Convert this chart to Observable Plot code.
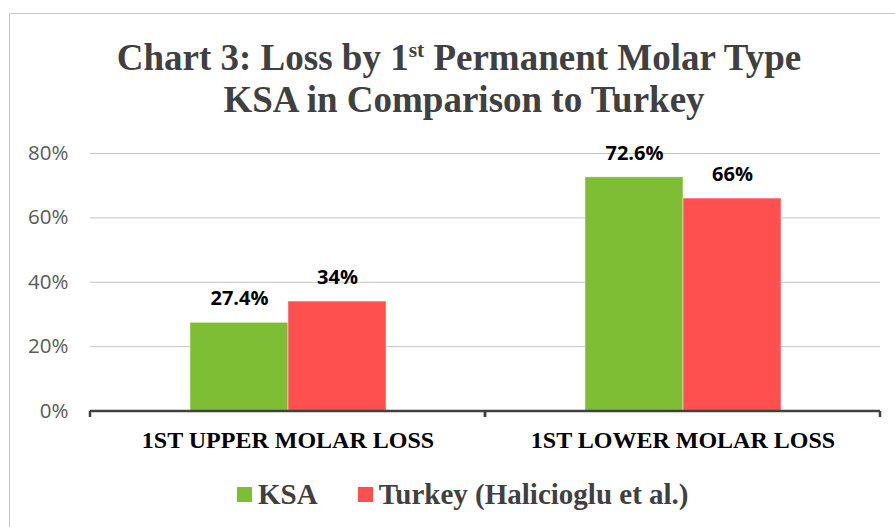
<!DOCTYPE html>
<html>
<head>
<meta charset="utf-8">
<script src="https://cdn.jsdelivr.net/npm/d3@7"></script>
<script src="https://cdn.jsdelivr.net/npm/@observablehq/plot@0.6"></script>
<style>
  html, body { margin: 0; padding: 0; background: #fff; }
  #wrap { position: relative; width: 895px; height: 527px; overflow: hidden; background: #fff; }
  #frame { position: absolute; left: 9px; top: 13px; width: 920px; height: 560px; border: 1.5px solid #cacaca; box-sizing: border-box; }
  .title { position: absolute; font-family: "Liberation Serif", "Times New Roman", serif; font-weight: bold; font-size: 37px; color: #404040; white-space: nowrap; line-height: 1; }
  .title sup { font-size: 58%; vertical-align: 0; position: relative; top: -0.62em; }
  #chart { position: absolute; left: 0; top: 128px; }
  #legend { position: absolute; left: 237px; top: 476px; }
  div.lg-swatches { font-family: "Liberation Serif", "Times New Roman", serif !important; font-weight: bold; font-size: 29px !important; color: #404040; min-height: 36px; }
  span.lg-swatch { margin-right: 40px !important; }
  span.lg-swatch > svg { margin-right: 6px !important; }
</style>
</head>
<body>
<div id="wrap">
  <div id="frame"></div>
  <div class="title" id="t1">Chart 3: Loss by 1<sup>st</sup> Permanent Molar Type</div>
  <div class="title" id="t2">KSA in Comparison to Turkey</div>
  <div id="chart"></div>
  <div id="legend"></div>
</div>
<script>
// ---- data ----
const categories = ["1ST UPPER MOLAR LOSS", "1ST LOWER MOLAR LOSS"];
const series = ["KSA", "Turkey (Halicioglu et al.)"];
const ksaValues = [27.4, 72.6];
const turkeyValues = [34, 66];
const seriesColors = ["#7DBE35", "#FF5050"];
const yTicks = [0, 20, 40, 60, 80];

const rows = [];
categories.forEach((c, i) => {
  rows.push({cat: c, series: series[0], value: ksaValues[i]});
  rows.push({cat: c, series: series[1], value: turkeyValues[i]});
});

// ---- title placement ----
function centerAt(el, cx, top) {
  const w = el.getBoundingClientRect().width;
  el.style.left = (cx - w / 2) + "px";
  el.style.top = top + "px";
}

const plot = Plot.plot({
  width: 895,
  height: 340,
  marginTop: 25,
  marginBottom: 57.5,
  marginLeft: 90,
  marginRight: 15,
  style: {background: "transparent", overflow: "visible"},
  fx: {domain: categories, padding: 0, label: null},
  x: {domain: series, paddingInner: 0, paddingOuter: 1, axis: null},
  y: {domain: [0, 80], label: null},
  color: {domain: series, range: seriesColors},
  marks: [
    Plot.gridY(yTicks.filter(d => d > 0), {stroke: "#c4c4c4", strokeOpacity: 1, strokeWidth: 1}),
    Plot.axisY({ticks: yTicks, tickSize: 0, tickPadding: 22, tickFormat: d => d + "%", fontSize: 20.5, fontFamily: "Open Sans", fill: "#595959", label: null}),
    Plot.barY(rows, {fx: "cat", x: "series", y: "value", fill: "series", stroke: "#ffffff", strokeOpacity: 0.45, strokeWidth: 1}),
    Plot.ruleY([0], {stroke: "#404040", strokeWidth: 2.5,
      render(index, scales, values, dimensions, context, next) {
        const g = next(index, scales, values, dimensions, context);
        if (scales.x && scales.x.range) {
          const [x0, x1] = scales.x.range();
          const y0 = scales.y(0);
          for (const xv of [x0, x1]) {
            const l = document.createElementNS("http://www.w3.org/2000/svg", "line");
            l.setAttribute("x1", xv); l.setAttribute("x2", xv);
            l.setAttribute("y1", y0); l.setAttribute("y2", y0 + 6);
            l.setAttribute("stroke", "#404040"); l.setAttribute("stroke-width", 2.5);
            g.appendChild(l);
          }
        }
        return g;
      }}),
    Plot.text(rows, {fx: "cat", x: "series", y: "value", text: d => d.value + "%", dy: -24, fontSize: 20, fontWeight: "bold", fontFamily: "Open Sans", fill: "#000"}),
    Plot.axisFx({anchor: "bottom", tickSize: 0, tickPadding: 20, fontSize: 24, fontWeight: "bold", fontFamily: "Liberation Serif", fill: "#000", label: null})
  ]
});
document.getElementById("chart").appendChild(plot);

const legend = Plot.legend({color: {domain: series, range: seriesColors}, swatchSize: 15, className: "lg"});
document.getElementById("legend").appendChild(legend);

centerAt(document.getElementById("t1"), 459, 39);
centerAt(document.getElementById("t2"), 464, 81);
</script>
</body>
</html>
